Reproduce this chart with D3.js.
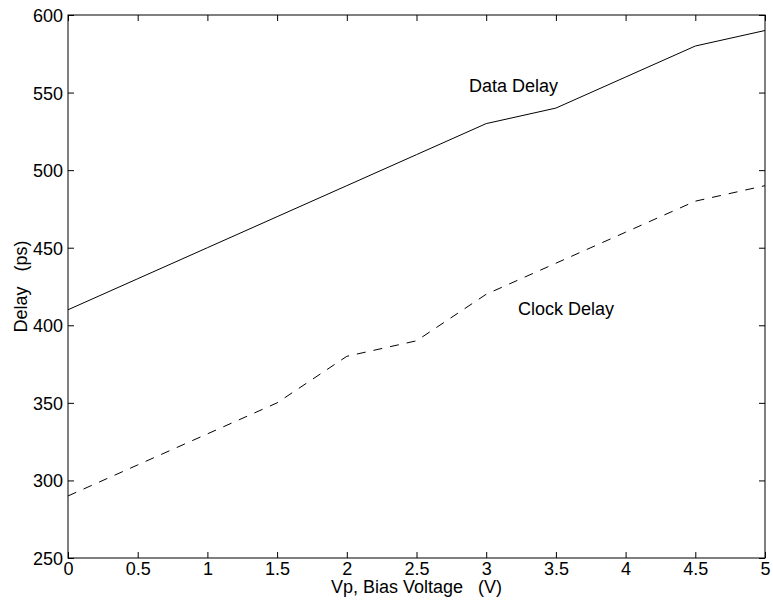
<!DOCTYPE html>
<html>
<head>
<meta charset="utf-8">
<script src="https://cdn.jsdelivr.net/npm/d3@7"></script>
<style>
  html, body { margin: 0; padding: 0; background: #fff; }
  svg text { font-family: "Liberation Sans", Arial, Helvetica, sans-serif; fill: #000; }
</style>
</head>
<body>
<svg id="chart" width="773" height="611"></svg>
<script>
// Bias voltage (V) and measured delays (ps)
const biasVoltage = [0, 0.5, 1, 1.5, 2, 2.5, 3, 3.5, 4, 4.5, 5];
const dataDelay   = [410, 430, 450, 470, 490, 510, 530, 540, 560, 580, 590];
const clockDelay  = [290, 310, 330, 350, 380, 390, 420, 440, 460, 480, 490];

const xTicks = [0, 0.5, 1, 1.5, 2, 2.5, 3, 3.5, 4, 4.5, 5];
const yTicks = [250, 300, 350, 400, 450, 500, 550, 600];

const margin = { left: 68, top: 15, right: 8, bottom: 53 };
const W = 773, H = 611;
const svg = d3.select("#chart");

const x = d3.scaleLinear().domain([0, 5]).range([margin.left, W - margin.right]);
const y = d3.scaleLinear().domain([250, 600]).range([H - margin.bottom, margin.top]);

const fontSize = 18;
const tickLen = 6;

// Bottom axis with labels, ticks pointing inward
const gx = svg.append("g").attr("transform", `translate(0,${y(250)})`)
  .call(d3.axisBottom(x).tickValues(xTicks).tickSize(-tickLen).tickPadding(4)
    .tickFormat(d3.format("~g")));
// Top axis, ticks only
const gxt = svg.append("g").attr("transform", `translate(0,${y(600)})`)
  .call(d3.axisTop(x).tickValues(xTicks).tickSize(-tickLen).tickFormat(""));
// Left axis with labels
const gy = svg.append("g").attr("transform", `translate(${x(0)},0)`)
  .call(d3.axisLeft(y).tickValues(yTicks).tickSize(-tickLen).tickPadding(5));
// Right axis, ticks only
const gyr = svg.append("g").attr("transform", `translate(${x(5)},0)`)
  .call(d3.axisRight(y).tickValues(yTicks).tickSize(-tickLen).tickFormat(""));

[gx, gxt, gy, gyr].forEach(g => {
  g.select(".domain").remove();
  g.selectAll(".tick line").attr("stroke", "#000").attr("stroke-width", 1);
  g.selectAll("text").attr("font-size", fontSize).attr("fill", "#000")
    .style("font-family", "'Liberation Sans', Arial, sans-serif");
});
gx.selectAll("text").attr("dy", "0.71em");
gy.selectAll("text").attr("dy", "0.36em");

// Plot frame
svg.append("rect")
  .attr("x", x(0)).attr("y", y(600))
  .attr("width", x(5) - x(0)).attr("height", y(250) - y(600))
  .attr("fill", "none").attr("stroke", "#000").attr("stroke-width", 1);

const line = d3.line().x(d => x(d[0])).y(d => y(d[1]));

svg.append("path")
  .datum(biasVoltage.map((v, i) => [v, dataDelay[i]]))
  .attr("d", line).attr("fill", "none").attr("stroke", "#000").attr("stroke-width", 1);

svg.append("path")
  .datum(biasVoltage.map((v, i) => [v, clockDelay[i]]))
  .attr("d", line).attr("fill", "none").attr("stroke", "#000").attr("stroke-width", 1)
  .attr("stroke-dasharray", "9,8");

// Curve annotations
svg.append("text").attr("x", 469).attr("y", 92).attr("font-size", fontSize).text("Data Delay");
svg.append("text").attr("x", 518).attr("y", 315).attr("font-size", fontSize).text("Clock Delay");

// Axis titles
svg.append("text")
  .attr("x", 331).attr("y", 593)
  .attr("font-size", fontSize)
  .attr("xml:space", "preserve")
  .text("Vp, Bias Voltage   (V)");

svg.append("text")
  .attr("transform", `translate(27,${(y(250) + y(600)) / 2}) rotate(-90)`)
  .attr("text-anchor", "middle").attr("font-size", fontSize)
  .attr("xml:space", "preserve")
  .text("Delay   (ps)");
</script>
</body>
</html>
